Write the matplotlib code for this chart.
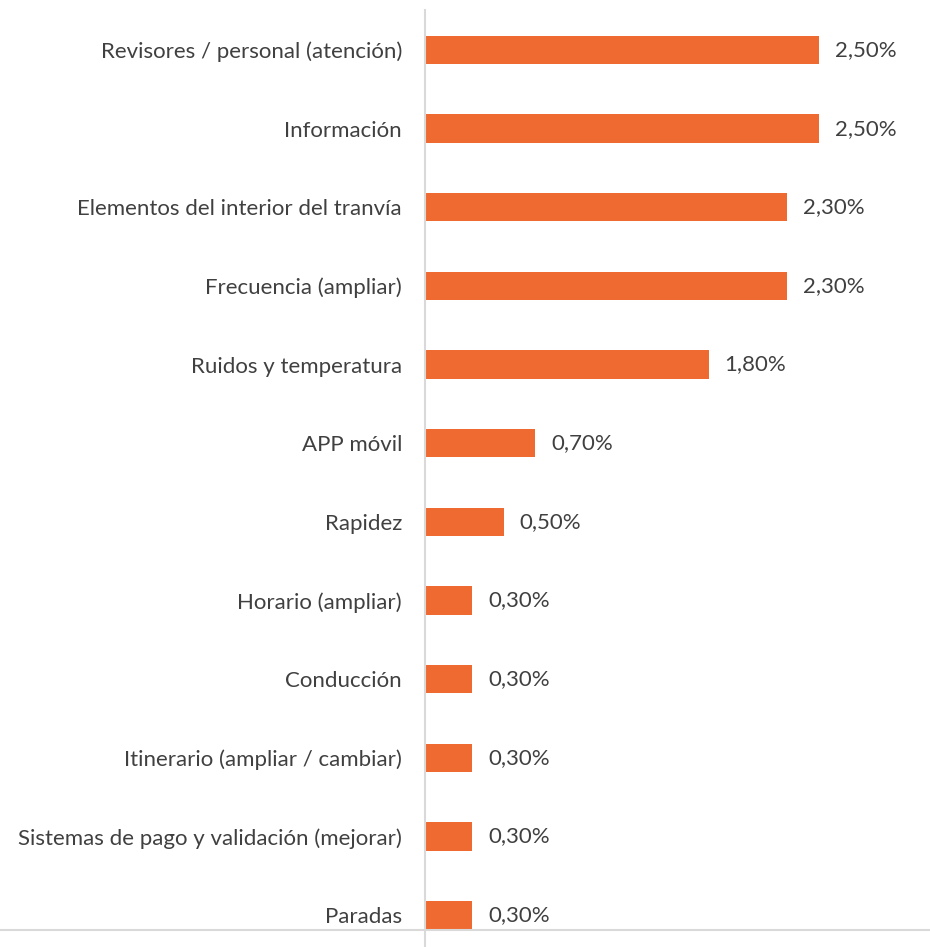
import matplotlib.pyplot as plt
from matplotlib.lines import Line2D

categories = [
    "Revisores / personal (atención)",
    "Información",
    "Elementos del interior del tranvía",
    "Frecuencia (ampliar)",
    "Ruidos y temperatura",
    "APP móvil",
    "Rapidez",
    "Horario (ampliar)",
    "Conducción",
    "Itinerario (ampliar / cambiar)",
    "Sistemas de pago y validación (mejorar)",
    "Paradas",
]
values = [2.5, 2.5, 2.3, 2.3, 1.8, 0.7, 0.5, 0.3, 0.3, 0.3, 0.3, 0.3]

W, H = 930, 947
fig = plt.figure(figsize=(W / 100, H / 100), dpi=100)
plt.rcParams['font.family'] = ['Lato', 'DejaVu Sans']

# axes box in pixels: left 425, top 10, bottom 930, right edge of figure
ax = fig.add_axes([425 / W, (H - 930) / H, (W - 425) / W, 920 / H])

y = list(range(len(categories)))
ax.barh(y, values, height=0.36, color='#EE6A30')
ax.set_xlim(0, (W - 425) / 157.6)
ax.set_ylim(11 + 15 / 78.64, -40 / 78.64)

for yi, v in zip(y, values):
    ax.text(v + 0.1, yi, f"{v:.2f}%".replace('.', ','), va='center', ha='left',
            fontsize=16, color='#404040')

ax.set_yticks(y)
ax.set_yticklabels(categories, fontsize=16, color='#404040')
ax.tick_params(axis='y', length=0, pad=16.5)
ax.set_xticks([])
for s in ax.spines.values():
    s.set_visible(False)

# axis line and bottom line
fig.add_artist(Line2D([425 / W, 425 / W], [0, (H - 10) / H], color='#D9D9D9', lw=1.5))
fig.add_artist(Line2D([0, 1], [(H - 930) / H, (H - 930) / H], color='#D9D9D9', lw=1.5))

fig.savefig("out.png", dpi=100)
